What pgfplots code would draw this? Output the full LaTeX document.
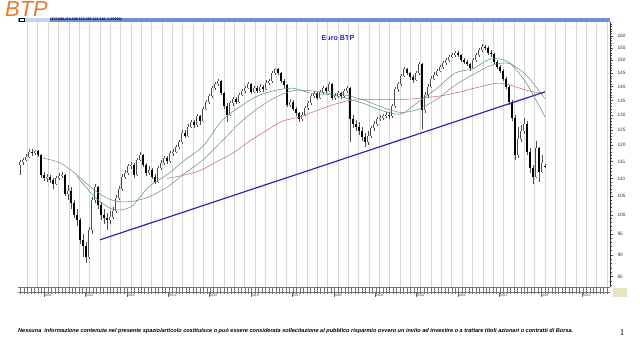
\documentclass[border=0pt]{standalone}
\usepackage{pgfplots}
\pgfplotsset{compat=1.18}
\usepackage{pgfplotstable}
\usepackage{fontspec}
\setmainfont{Liberation Sans}
\newfontfamily\serifone{Liberation Serif}

\definecolor{maGreen}{RGB}{70,150,110}
\definecolor{maGray}{RGB}{120,132,148}
\definecolor{maRed}{RGB}{200,100,90}
\definecolor{trendBlue}{RGB}{40,40,180}
\definecolor{btpOrange}{RGB}{236,122,40}
\definecolor{titleBlue}{RGB}{34,34,200}
\definecolor{barBlue}{RGB}{112,142,218}
\definecolor{barLight}{RGB}{196,210,240}
\definecolor{gridGray}{RGB}{215,215,215}
\definecolor{khaki}{RGB}{230,226,196}

\pgfplotsset{
  candlebar/.style 2 args={draw=none, mark=none, forget plot,
    error bars/.cd, y dir=minus, y explicit, error mark=none,
    error bar style={draw=#1, line width=#2}},
}

\pgfplotstableread{
x o h l c
20 114.0 115.6 111.0 114.8
23 114.8 116.2 114.0 115.5
26 115.5 117.3 115.0 116.5
29 116.5 118.8 116.0 118.0
32 118.0 118.9 116.8 117.5
35 117.5 118.6 116.9 118.2
38 118.2 118.5 116.4 117.0
41 117.0 117.4 110.2 111.0
44 111.0 111.8 109.3 110.0
47 110.0 111.2 109.0 110.5
50 110.5 111.0 108.8 109.5
53 109.5 110.0 107.0 108.5
56 108.5 110.6 108.0 110.0
59 110.0 111.5 109.5 110.8
62 110.8 112.0 110.0 111.0
65 111.0 111.3 105.0 105.5
68 105.5 108.2 104.0 106.5
71 106.5 107.5 101.5 103.0
74 103.0 104.0 99.0 100.0
77 100.0 101.5 97.0 98.5
80 98.5 99.0 92.5 93.5
83 93.5 95.0 89.5 92.0
86 92.0 93.0 88.0 89.5
89 89.5 96.8 89.0 96.0
92 96.0 104.8 95.0 104.0
95 104.0 108.5 103.0 107.5
98 107.5 107.8 101.5 102.5
101 102.5 103.5 98.5 100.0
104 100.0 101.5 97.5 99.0
107 99.0 100.5 96.0 98.5
110 98.5 101.0 97.5 99.5
113 99.5 102.0 98.8 101.0
116 101.0 105.2 100.5 104.5
119 104.5 107.8 104.0 107.0
122 107.0 111.2 106.5 110.5
125 110.5 112.5 109.8 111.5
128 111.5 114.2 111.0 113.5
131 113.5 114.8 112.8 114.0
134 114.0 114.5 110.2 111.0
137 111.0 116.2 110.8 115.5
140 115.5 118.0 115.0 117.0
143 117.0 117.4 113.2 114.0
146 114.0 114.6 110.8 111.5
149 111.5 113.5 111.0 112.5
152 112.5 113.0 109.8 110.5
155 110.5 111.2 108.5 109.0
158 109.0 113.6 108.8 113.0
161 113.0 115.3 112.5 114.5
164 114.5 116.8 114.0 116.0
167 116.0 116.8 114.2 115.0
170 115.0 118.2 114.6 117.5
173 117.5 118.9 116.8 118.0
176 118.0 120.2 117.5 119.5
179 119.5 121.8 118.8 121.0
182 121.0 124.8 120.5 124.0
185 124.0 124.8 122.2 123.0
188 123.0 126.8 122.5 126.0
191 126.0 128.3 125.5 127.5
194 127.5 128.2 125.5 126.5
197 126.5 130.2 126.0 129.5
200 129.5 130.0 126.5 128.0
203 128.0 132.8 127.6 132.0
206 132.0 135.2 131.5 134.5
209 134.5 137.3 133.8 136.5
212 136.5 140.2 136.0 139.5
215 139.5 141.8 138.8 141.0
218 141.0 142.8 140.2 142.0
221 142.0 142.4 136.8 137.5
224 137.5 138.0 132.0 133.0
227 133.0 134.0 127.5 130.0
230 130.0 134.8 129.5 134.0
233 134.0 136.3 133.2 135.5
236 135.5 136.2 133.6 134.5
239 134.5 137.8 134.0 137.0
242 137.0 139.2 136.5 138.5
245 138.5 140.2 137.8 139.5
248 139.5 141.8 139.0 141.0
251 141.0 141.3 137.2 138.0
254 138.0 140.4 137.5 139.5
257 139.5 140.3 137.6 138.5
260 138.5 140.8 138.0 140.0
263 140.0 140.7 138.2 139.0
266 139.0 142.3 138.6 141.5
269 141.5 142.9 140.6 142.0
272 142.0 145.8 141.5 145.0
275 145.0 147.2 144.4 146.5
278 146.5 146.9 144.2 145.0
281 145.0 145.4 141.2 142.0
284 142.0 142.8 139.6 140.5
287 140.5 141.0 132.6 133.5
290 133.5 135.4 132.8 134.5
293 134.5 135.0 131.2 132.0
296 132.0 132.6 129.6 130.5
299 130.5 131.0 127.5 128.5
302 128.5 130.8 128.0 130.0
305 130.0 133.2 129.5 132.5
308 132.5 134.8 131.8 134.0
311 134.0 137.2 133.5 136.5
314 136.5 138.3 135.8 137.5
317 137.5 138.0 135.2 136.0
320 136.0 138.8 135.5 138.0
323 138.0 140.2 137.4 139.5
326 139.5 140.0 137.6 138.5
329 138.5 141.8 138.0 141.0
332 141.0 141.4 135.2 136.0
335 136.0 137.5 135.2 136.5
338 136.5 138.3 135.8 137.5
341 137.5 138.2 135.6 136.5
344 136.5 139.3 136.0 138.5
347 138.5 140.3 137.8 139.5
350 139.5 139.8 121.0 128.5
353 128.5 130.0 125.5 127.0
356 127.0 128.4 124.6 126.0
359 126.0 127.5 123.2 124.5
362 124.5 126.0 121.4 122.5
365 122.5 124.0 119.5 121.0
368 121.0 124.5 120.0 123.0
371 123.0 126.3 122.2 125.5
374 125.5 127.9 124.6 127.0
377 127.0 129.3 126.4 128.5
380 128.5 130.0 127.8 129.0
383 129.0 130.3 128.2 129.5
386 129.5 130.8 128.8 130.0
389 130.0 130.8 128.5 129.5
392 129.5 133.8 129.0 133.0
395 133.0 139.8 132.5 139.0
398 139.0 141.8 138.2 141.0
401 141.0 144.8 140.4 144.0
404 144.0 147.3 143.5 146.5
407 146.5 147.0 144.2 145.0
410 145.0 145.6 142.6 143.5
413 143.5 144.4 141.4 142.5
416 142.5 145.8 142.0 145.0
419 145.0 149.3 144.5 148.5
422 148.5 148.9 125.3 131.5
425 131.5 138.0 130.5 137.0
428 137.0 141.0 136.0 140.0
431 140.0 143.8 139.4 143.0
434 143.0 145.3 142.4 144.5
437 144.5 146.8 143.8 146.0
440 146.0 148.3 145.5 147.5
443 147.5 149.8 146.8 149.0
446 149.0 150.9 148.3 150.0
449 150.0 152.3 149.5 151.5
452 151.5 152.9 150.8 152.0
455 152.0 153.8 151.3 153.0
458 153.0 153.6 151.2 152.0
461 152.0 152.5 149.2 150.0
464 150.0 151.0 148.6 149.5
467 149.5 150.2 147.6 148.5
470 148.5 149.0 146.0 147.0
473 147.0 150.8 146.5 150.0
476 150.0 152.8 149.4 152.0
479 152.0 154.8 151.5 154.0
482 154.0 156.5 153.4 155.5
485 155.5 156.2 154.0 155.0
488 155.0 155.6 152.2 153.0
491 153.0 154.0 151.4 152.5
494 152.5 153.0 148.6 149.5
497 149.5 150.2 146.5 147.5
500 147.5 148.3 145.0 146.0
503 146.0 146.6 142.0 143.0
506 143.0 143.6 139.0 140.0
509 140.0 140.5 133.5 134.5
512 134.5 135.0 127.8 129.0
515 129.0 129.8 115.5 117.0
518 117.0 126.0 116.0 122.0
521 122.0 126.5 121.0 124.5
524 124.5 129.0 123.5 127.0
527 127.0 128.0 117.0 118.0
530 118.0 119.0 111.5 113.0
533 113.0 114.0 108.5 110.5
536 110.5 121.5 110.0 119.0
539 119.0 119.5 109.0 112.0
542 112.0 117.0 111.5 114.5
545 113.6 114.2 113.09 113.41
}\candles

\begin{document}
\begin{tikzpicture}
\path[use as bounding box] (0,0) rectangle (640bp,-339bp);
\fill[white] (0,0) rectangle (640bp,-339bp);

\begin{scope}[x=1bp,y=-1bp]
  % title BTP
  \node[anchor=north west, inner sep=0, text=btpOrange,
        font=\fontsize{22}{22}\selectfont\itshape] at (5,1.5) {BTP};
  % header bar
  \fill[barBlue] (18,17.5) rectangle (610,22);
  \fill[barLight] (24,17.8) rectangle (50,21.7);
  \filldraw[fill=white, draw=black, line width=0.3bp] (19,18) rectangle (24,21.5);
  \node[anchor=west, inner sep=0, font=\fontsize{3.6}{4}\selectfont\bfseries]
    at (50,19.8) {(113.600,114.200,113.090,113.410,-0.29000)};
  % date strip
  \draw[black!55, line width=0.3bp] (18,287.5) -- (610,287.5);
  \draw[black!55, line width=0.3bp] (18,292) -- (610,292);
  \foreach \k in {-8,...,162} {
    \draw[black!55, line width=0.25bp] ({48+3.45*\k},287.5) -- ++(0,4.5);
    \draw[black!55, line width=0.25bp] ({48+3.45*\k},292) -- ++(0,2.3);
  }
  \foreach \k in {-2,...,54} {
    \pgfmathsetmacro{\dd}{int(mod(\k+8,4))}
    \node[font=\fontsize{2.8}{3}\selectfont, text=black!75, inner sep=0]
      at ({48+10.35*\k+1.7},289.8) {\ifcase\dd 31\or 30\or 30\or 31\fi};
  }
  \foreach \y [count=\i from 0] in {2011,...,2024} {
    \draw[black!60, line width=0.3bp] ({48+41.4*\i-4},292) -- ++(0,5);
    \node[font=\fontsize{3.4}{4}\selectfont, text=black!75, inner sep=0]
      at ({48+41.4*\i},295.3) {\y};
  }
  \fill[khaki] (613,288) rectangle (627,297);
  % chart title
  \node[font=\bfseries\fontsize{7.2}{8}\selectfont, text=titleBlue] at (338,38) {Euro BTP};
  % disclaimer
  \node[anchor=west, inner sep=0] at (18,331) {\resizebox{555bp}{!}{\bfseries\itshape\fontsize{5}{6}\selectfont Nessuna\ \ informazione contenuta nel presente spazio/articolo costituisce o può essere considerata sollecitazione al pubblico risparmio ovvero un invito ad investire o a trattare titoli azionari o contratti di Borsa.}};
  \node[font=\serifone\fontsize{9}{10}\selectfont, inner sep=0] at (622,333) {1};
\end{scope}

\begin{axis}[
  at={(18bp,-287bp)}, anchor=south west,
  scale only axis, width=592bp, height=265bp,
  xmin=18, xmax=610,
  ymode=log, ymin=82.7, ymax=165.9,
  axis x line*=bottom, axis y line*=right,
  x axis line style={draw=none},
  y axis line style={black!80, line width=0.4bp},
  xtick={27.3,37.65,...,607}, xticklabels={},
  xmajorgrids, major x grid style={gridGray, line width=0.4bp},
  major x tick style={draw=none},
  ytick={85,90,95,100,105,110,115,120,125,130,135,140,145,150,155,160},
  yticklabels={85,90,95,100,105,110,115,120,125,130,135,140,145,150,155,160},
  minor ytick={83,84,86,87,88,89,91,92,93,94,96,97,98,99,101,102,103,104,106,107,108,109,111,112,113,114,116,117,118,119,121,122,123,124,126,127,128,129,131,132,133,134,136,137,138,139,141,142,143,144,146,147,148,149,151,152,153,154,156,157,158,159,161,162,163,164,165},
  tick align=outside,
  major tick length=3bp, minor tick length=1.5bp,
  ytick style={black!70, line width=0.3bp},
  minor y tick style={black!70, line width=0.3bp},
  yticklabel style={font=\fontsize{4.8}{5}\selectfont, text=black!80, xshift=1bp},
]
% wicks
\addplot[candlebar={black!70}{0.4bp}]
  table[x=x, y=h, y error minus expr=\thisrow{h}-\thisrow{l}] {\candles};
% up bodies outline
\addplot[restrict expr to domain={\thisrow{c}-\thisrow{o}}{0:1000},
  candlebar={black!70}{1.7bp}]
  table[x=x, y=c, y error minus expr=\thisrow{c}-\thisrow{o}] {\candles};
% up bodies fill
\addplot[restrict expr to domain={\thisrow{c}-\thisrow{o}}{0:1000},
  candlebar={white}{0.8bp}]
  table[x=x, y=c, y error minus expr=\thisrow{c}-\thisrow{o}] {\candles};
% down bodies (black)
\addplot[restrict expr to domain={\thisrow{o}-\thisrow{c}}{0.0001:1000},
  candlebar={black}{1.7bp}]
  table[x=x, y=o, y error minus expr=\thisrow{o}-\thisrow{c}] {\candles};
% moving averages
\addplot[maRed, line width=0.5bp, smooth, mark=none] coordinates {
(167,110.0) (183,110.9) (200,112.3) (217,115.0) (233,117.6) (250,121.4) (267,124.9) (283,127.9) (300,129.3) (317,131.5) (333,133.5) (350,135.0) (367,135.3) (383,135.3) (400,135.3) (420,135.8) (440,136.6) (457,137.8) (473,139.3) (490,140.8) (500,141.3) (510,140.6) (527,138.6) (543,137.5)};
\addplot[maGray, line width=0.5bp, smooth, mark=none] coordinates {
(43,116.0) (60,114.6) (77,111.0) (95,106.5) (113,103.8) (131,103.5) (149,104.8) (167,107.5) (185,111.5) (203,115.5) (221,121.0) (239,127.0) (257,132.0) (275,136.0) (293,138.5) (311,138.5) (329,137.5) (347,136.8) (365,135.0) (383,132.5) (401,130.8) (419,132.0) (437,135.5) (455,140.5) (473,144.5) (491,148.0) (509,148.8) (527,144.0) (545,135.5)};
\addplot[maGreen, line width=0.5bp, smooth, mark=none] coordinates {
(77,110.6) (95,104.7) (113,101.4) (131,102.1) (149,107.7) (167,111.05) (185,115.5) (203,119.7) (221,127.7) (239,132.6) (257,136.5) (275,138.6) (293,139.4) (311,137.6) (329,137.1) (347,135.7) (365,133.75) (383,131.35) (401,130.3) (419,134.7) (437,139.4) (455,145.05) (473,146.8) (491,150.6) (509,149.2) (527,140.85) (545,129.3)};
% trend line
\addplot[trendBlue, line width=1.2bp, mark=none] coordinates {(100,93.6) (545,138.1)};
\end{axis}
\end{tikzpicture}
\end{document}
